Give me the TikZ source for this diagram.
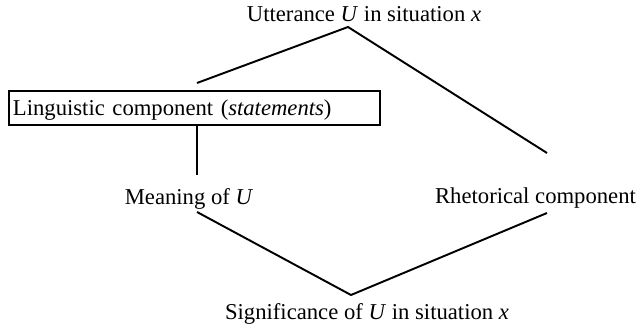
\documentclass[tikz,border=0pt]{standalone}
\usepackage{fontspec}
\setmainfont{Liberation Serif}
\usepackage{tikz}
\usetikzlibrary{positioning}

\begin{document}
\begin{tikzpicture}[
  font=\fontsize{12.9}{15.5}\selectfont,
  term/.style={anchor=base, inner sep=0pt},
  lingbox/.style={draw, line width=1.1pt, anchor=north west, align=left, text width=7.26cm, inner xsep=0.08cm, inner ysep=0pt, text height=0.5cm, text depth=0.18cm},
  link/.style={line width=1.1pt}
]
\useasboundingbox (0,0) rectangle (12.84,6.5);

% Labels
\node[term] (utter) at (7.28,6.06) {Utterance \textit{U} in situation \textit{x}};
\node[lingbox] (ling) at (0.16,4.70) {Linguistic component (\textit{statements})};
\node[term] (meaning) at (3.78,2.40) {Meaning of \textit{U}};
\node[term] (rhet) at (10.71,2.42) {Rhetorical component};
\node[term] (signif) at (7.34,0.11) {Significance of \textit{U} in situation \textit{x}};

% Fork points
\coordinate (topFork) at (6.96,5.96);
\coordinate (lingEnd) at (3.94,4.84);
\coordinate (rhetEnd) at (10.94,3.44);
\coordinate (meaningTop) at (3.94,3.00);
\coordinate (meaningEnd) at (3.94,2.26);
\coordinate (rhetFoot) at (10.94,2.24);
\coordinate (botFork) at (7.02,0.60);

\draw[link] (lingEnd) -- (topFork) -- (rhetEnd);
\draw[line width=0.8pt] (ling.south -| meaningTop) -- (meaningTop);
\draw[link] (meaningEnd) -- (botFork) -- (rhetFoot);
\end{tikzpicture}
\end{document}
